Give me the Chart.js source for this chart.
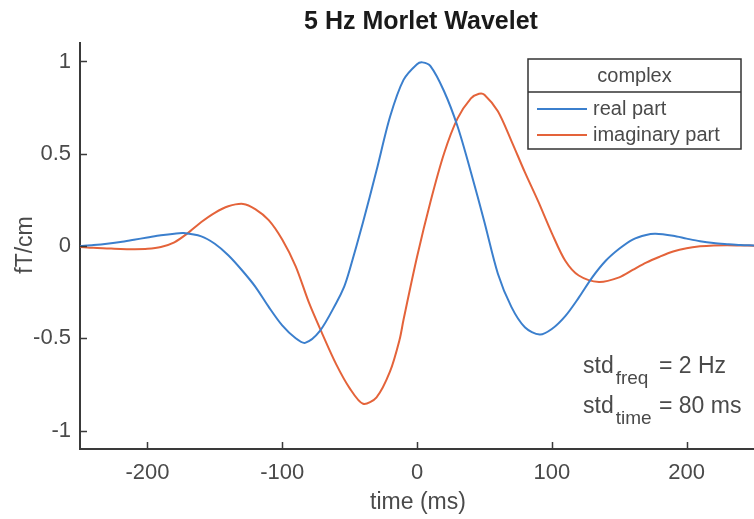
<!DOCTYPE html>
<html lang="en">
<head>
    <meta charset="UTF-8">
    <title>5 Hz Morlet Wavelet</title>
    <script src="https://cdn.jsdelivr.net/npm/chart.js"></script>
    <style>
        html, body { margin: 0; padding: 0; background: #fff; }
        #chart { display: block; }
    </style>
</head>
<body>
    <canvas id="chart" width="754" height="519"></canvas>

    <script>
        // values
        const realTime = [-250,-240,-230,-220,-210,-200,-190,-180,-173,-160,-150,-140,-130,-120,-110,-100,-90,-83,-72,-60,-54,-50,-40,-30,-20,-10,0,4,10,20,30,40,50,60,70,80,91,100,110,120,130,140,150,160,170,177,190,200,210,220,230,240,250];
        const realValue = [0,0.005,0.012,0.022,0.034,0.046,0.058,0.067,0.07,0.052,0.012,-0.05,-0.13,-0.22,-0.33,-0.43,-0.50,-0.525,-0.46,-0.31,-0.22,-0.13,0.13,0.41,0.70,0.90,0.985,0.995,0.975,0.84,0.65,0.40,0.13,-0.15,-0.33,-0.44,-0.48,-0.45,-0.38,-0.28,-0.17,-0.08,-0.015,0.035,0.06,0.066,0.055,0.04,0.026,0.016,0.01,0.005,0.003];

        const imagTime = [-250,-240,-230,-220,-210,-200,-190,-180,-170,-160,-150,-140,-129,-120,-110,-100,-90,-80,-70,-60,-50,-40,-30,-20,-13,-10,0,10,20,30,40,46,50,60,70,80,90,100,110,120,135,150,160,170,180,190,200,210,220,230,240,250];
        const imagValue = [-0.005,-0.01,-0.013,-0.016,-0.017,-0.015,-0.005,0.02,0.07,0.13,0.18,0.215,0.228,0.20,0.14,0.035,-0.11,-0.31,-0.48,-0.64,-0.77,-0.855,-0.82,-0.68,-0.51,-0.40,-0.06,0.24,0.50,0.69,0.80,0.825,0.82,0.73,0.57,0.40,0.24,0.07,-0.08,-0.16,-0.195,-0.17,-0.13,-0.09,-0.058,-0.03,-0.012,-0.002,0.003,0.004,0.003,0.002];

        const xTicks = [-200, -100, 0, 100, 200];
        const yTicks = [-1, -0.5, 0, 0.5, 1];
        const seriesLabels = ['real part', 'imaginary part'];
        const seriesColors = ['#3b7fcd', '#e4633a'];

        const FONT = '"Liberation Sans", Arial, Helvetica, sans-serif';
        const TEXT = '#4a4a4a';
        const AXIS = '#3a3a3a';

        function toPoints(xs, ys) {
            return xs.map((x, i) => ({ x: x, y: ys[i] }));
        }

        // title, inward ticks, axis labels, legend box and std note
        const extras = {
            id: 'extras',
            afterDraw(chart) {
                const ctx = chart.ctx;
                const area = chart.chartArea;
                const xs = chart.scales.x;
                const ys = chart.scales.y;
                ctx.save();

                // inward tick marks
                ctx.strokeStyle = AXIS;
                ctx.lineWidth = 1.5;
                ctx.beginPath();
                xTicks.forEach(v => {
                    const px = Math.round(xs.getPixelForValue(v)) + 0.5;
                    ctx.moveTo(px, area.bottom);
                    ctx.lineTo(px, area.bottom - 7);
                });
                yTicks.forEach(v => {
                    const py = Math.round(ys.getPixelForValue(v)) + 0.5;
                    ctx.moveTo(area.left, py);
                    ctx.lineTo(area.left + 7, py);
                });
                ctx.stroke();

                // title
                ctx.fillStyle = '#1a1a1a';
                ctx.font = 'bold 25px ' + FONT;
                ctx.textAlign = 'center';
                ctx.textBaseline = 'alphabetic';
                ctx.fillText('5 Hz Morlet Wavelet', 421, 29);

                // axis titles
                ctx.fillStyle = TEXT;
                ctx.font = '23px ' + FONT;
                ctx.fillText('time (ms)', 418, 509);
                ctx.save();
                ctx.translate(32, 245);
                ctx.rotate(-Math.PI / 2);
                ctx.font = '23px ' + FONT;
                ctx.fillText('fT/cm', 0, 0);
                ctx.restore();

                // legend
                const lx = 528, ly = 59, lw = 213, lh = 90;
                ctx.fillStyle = '#fff';
                ctx.fillRect(lx, ly, lw, lh);
                ctx.strokeStyle = '#333';
                ctx.lineWidth = 1.5;
                ctx.strokeRect(lx, ly, lw, lh);
                ctx.beginPath();
                ctx.moveTo(lx, 92);
                ctx.lineTo(lx + lw, 92);
                ctx.stroke();
                ctx.fillStyle = TEXT;
                ctx.font = '20px ' + FONT;
                ctx.textAlign = 'center';
                ctx.textBaseline = 'middle';
                ctx.fillText('complex', lx + lw / 2, 76);
                ctx.textAlign = 'left';
                [109, 135].forEach((rowY, i) => {
                    ctx.strokeStyle = seriesColors[i];
                    ctx.lineWidth = 2;
                    ctx.beginPath();
                    ctx.moveTo(537, rowY);
                    ctx.lineTo(587, rowY);
                    ctx.stroke();
                    ctx.fillStyle = TEXT;
                    ctx.fillText(seriesLabels[i], 593, rowY);
                });

                // std note with subscripts
                ctx.textBaseline = 'alphabetic';
                const note = [['freq', '= 2 Hz', 373], ['time', '= 80 ms', 413]];
                note.forEach(n => {
                    ctx.font = '23px ' + FONT;
                    ctx.fillText('std', 583, n[2]);
                    const w = ctx.measureText('std').width;
                    ctx.font = '19px ' + FONT;
                    ctx.fillText(n[0], 583 + w + 2, n[2] + 11);
                    ctx.font = '23px ' + FONT;
                    ctx.fillText(n[1], 659, n[2]);
                });

                ctx.restore();
            }
        };

        const ctx = document.getElementById('chart').getContext('2d');
        new Chart(ctx, {
            type: 'line',
            data: {
                datasets: [{
                    label: seriesLabels[0],
                    data: toPoints(realTime, realValue),
                    borderColor: seriesColors[0],
                    borderWidth: 2,
                    pointRadius: 0,
                    tension: 0.3
                }, {
                    label: seriesLabels[1],
                    data: toPoints(imagTime, imagValue),
                    borderColor: seriesColors[1],
                    borderWidth: 2,
                    pointRadius: 0,
                    tension: 0.3
                }]
            },
            options: {
                responsive: false,
                animation: false,
                events: [],
                layout: {
                    padding: { top: 43, right: 0, left: 0, bottom: 0 }
                },
                plugins: {
                    legend: { display: false },
                    title: { display: false },
                    tooltip: { enabled: false }
                },
                scales: {
                    x: {
                        type: 'linear',
                        min: -250,
                        max: 250,
                        afterBuildTicks: function(scale) {
                            scale.ticks = xTicks.map(v => ({ value: v }));
                        },
                        afterFit: function(scale) {
                            scale.height = 70;
                        },
                        grid: { display: false, drawTicks: false },
                        border: { display: true, color: AXIS, width: 2 },
                        ticks: {
                            color: TEXT,
                            font: { family: FONT, size: 22 },
                            padding: 11,
                            maxRotation: 0
                        }
                    },
                    y: {
                        type: 'linear',
                        min: -1.1,
                        max: 1.1,
                        afterBuildTicks: function(scale) {
                            scale.ticks = yTicks.map(v => ({ value: v }));
                        },
                        afterFit: function(scale) {
                            scale.width = 80;
                        },
                        grid: { display: false, drawTicks: false },
                        border: { display: true, color: AXIS, width: 2 },
                        ticks: {
                            color: TEXT,
                            font: { family: FONT, size: 22 },
                            padding: 9,
                            callback: function(value) {
                                return String(value);
                            }
                        }
                    }
                }
            },
            plugins: [extras]
        });
    </script>
</body>
</html>
